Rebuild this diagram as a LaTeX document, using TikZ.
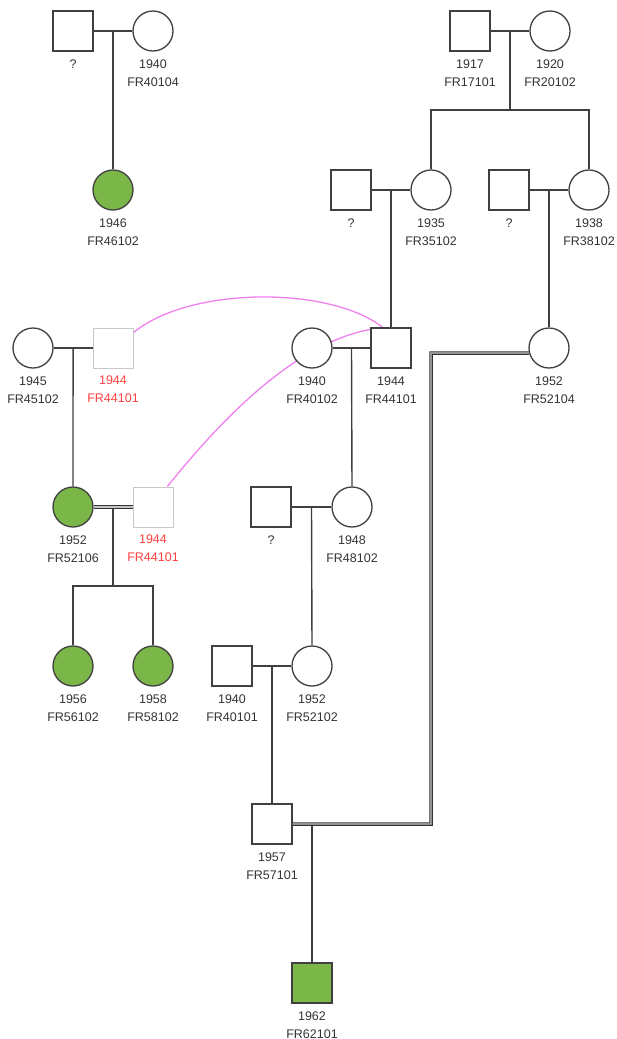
\documentclass[tikz,border=0pt]{standalone}
\usepackage{fontspec}
\setmainfont{Liberation Sans}
\usetikzlibrary{backgrounds,calc}
\definecolor{ln}{HTML}{404040}
\definecolor{txt}{HTML}{333333}
\definecolor{aff}{HTML}{7AB648}
\definecolor{redt}{HTML}{FF4040}
\definecolor{ghost}{HTML}{C8C8C8}
\definecolor{pinkl}{HTML}{F080F0}
\tikzset{
  lbl/.style={font=\fontsize{12.5}{18}\selectfont, text=txt, align=center, inner sep=0pt, yshift=-7.5pt},
  rlbl/.style={lbl, text=redt},
  male/.style={rectangle, draw=ln, line width=1.3pt, fill=white, minimum size=40pt, inner sep=0pt, label distance=0pt},
  female/.style={male, circle},
  affm/.style={male, fill=aff},
  afff/.style={female, fill=aff},
  ghostm/.style={male, draw=ghost, line width=1pt},
  rel/.style={draw=ln, line width=1.4pt},
  dbl/.style={draw=black!80, line width=1.1pt, double=gray!45, double distance=1.3pt},
  loop/.style={draw=pinkl, line width=1.3pt}
}
\begin{document}
\begin{tikzpicture}[x=1pt,y=-1pt]
\useasboundingbox (0,0) rectangle (617,1039);

% generation I
\node[male]   (sqA)  at (73,31)  [label={[lbl]below:{?}}] {};
\node[female] (cA)   at (153,31) [label={[lbl]below:{1940\\FR40104}}] {};
\node[afff]   (c1946) at (113,190) [label={[lbl]below:{1946\\FR46102}}] {};

\node[male]   (sq1917) at (470,31) [label={[lbl]below:{1917\\FR17101}}] {};
\node[female] (c1920)  at (550,31) [label={[lbl]below:{1920\\FR20102}}] {};

% generation II
\node[male]   (sqC)   at (351,190) [label={[lbl]below:{?}}] {};
\node[female] (c1935) at (431,190) [label={[lbl]below:{1935\\FR35102}}] {};
\node[male]   (sqD)   at (509,190) [label={[lbl]below:{?}}] {};
\node[female] (c1938) at (589,190) [label={[lbl]below:{1938\\FR38102}}] {};

% generation III
\node[female] (c1945)  at (33,348)  [label={[lbl]below:{1945\\FR45102}}] {};
\node[ghostm] (gsq1)   at (113,348) [label={[rlbl]below:{1944\\FR44101}}] {};
\node[female] (c1940)  at (312,348) [label={[lbl]below:{1940\\FR40102}}] {};
\node[male]   (sq1944) at (391,348) [label={[lbl]below:{1944\\FR44101}}] {};
\node[female] (c1952R) at (549,348) [label={[lbl]below:{1952\\FR52104}}] {};

% generation IV
\node[afff]   (c1952L) at (73,507)  [label={[lbl]below:{1952\\FR52106}}] {};
\node[ghostm] (gsq2)   at (153,507) [label={[rlbl]below:{1944\\FR44101}}] {};
\node[male]   (sqE)    at (271,507) [label={[lbl]below:{?}}] {};
\node[female] (c1948)  at (352,507) [label={[lbl]below:{1948\\FR48102}}] {};

% generation V
\node[afff]   (c1956)  at (73,666)  [label={[lbl]below:{1956\\FR56102}}] {};
\node[afff]   (c1958)  at (153,666) [label={[lbl]below:{1958\\FR58102}}] {};
\node[male]   (sq1940) at (232,666) [label={[lbl]below:{1940\\FR40101}}] {};
\node[female] (c1952M) at (312,666) [label={[lbl]below:{1952\\FR52102}}] {};

% generation VI
\node[male]   (sq1957) at (272,824) [label={[lbl]below:{1957\\FR57101}}] {};
\node[affm]   (sq1962) at (312,983) [label={[lbl]below:{1962\\FR62101}}] {};

% helper coordinates
\coordinate (mA) at ($(sqA.east)!0.5!(cA.west)$);
\coordinate (mB) at ($(sq1917.east)!0.5!(c1920.west)$);
\coordinate (sB) at (mB |- 0,110);
\coordinate (mC) at ($(sqC.east)!0.5!(c1935.west)$);
\coordinate (mD) at ($(sqD.east)!0.5!(c1938.west)$);
\coordinate (mE) at ($(c1945.east)!0.5!(gsq1.west)$);
\coordinate (mF) at ($(c1940.east)!0.5!(sq1944.west)$);
\coordinate (mG) at ($(c1952L.east)!0.5!(gsq2.west)$);
\coordinate (sG) at (mG |- 0,586);
\coordinate (mH) at ($(sqE.east)!0.5!(c1948.west)$);
\coordinate (mI) at ($(sq1940.east)!0.5!(c1952M.west)$);
\coordinate (mJ) at (312,824);
\coordinate (dA) at (431,824);
\coordinate (dB) at (431,353);

% marriages and descent
\draw[rel] (sqA) -- (cA);
\draw[rel] (mA) -- (c1946.north);
\draw[rel] (sq1917) -- (c1920);
\draw[rel] (mB) -- (sB);
\draw[rel] (c1935.north) |- (sB) -| (c1938.north);
\draw[rel] (sqC) -- (c1935);
\draw[rel] (mC) -- (sq1944.north);
\draw[rel] (sqD) -- (c1938);
\draw[rel] (mD) -- (c1952R.north);
\draw[rel] (c1945) -- (gsq1);
\draw[rel] (mE) -- (c1952L.north);
\draw[rel] (c1940) -- (sq1944);
\draw[rel] (mF) -- (c1948.north);
\draw[rel] (mG) -- (sG);
\draw[rel] (c1956.north) |- (sG) -| (c1958.north);
\draw[dbl] (c1952L) -- (gsq2);
\draw[rel] (sqE) -- (c1948);
\draw[rel] (mH) -- (c1952M.north);
\draw[rel] (sq1940) -- (c1952M);
\draw[rel] (mI) -- (sq1957.north);
\draw[rel] (mJ) -- (sq1962.north);
\draw[dbl] (sq1957.east) -- (dA) -- (dB) -- (c1952R.194);

% duplicate-individual links
\begin{scope}[on background layer]
\draw[loop] (gsq1.37) .. controls (190,286) and (330,286) .. (sq1944.112);
\draw[loop] (gsq2.55) .. controls (205,440) and (285,345) .. (sq1944.138);
\end{scope}
\end{tikzpicture}
\end{document}
